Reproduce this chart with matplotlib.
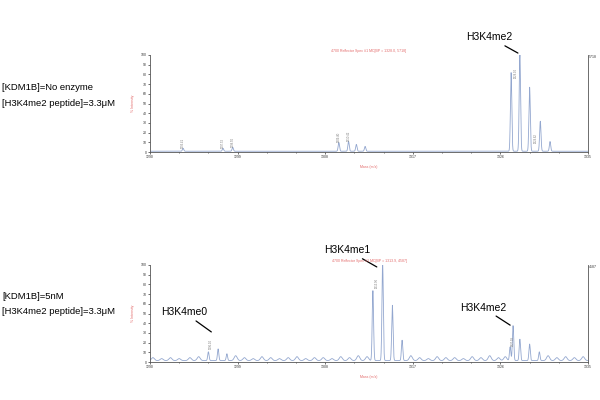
import numpy as np
import matplotlib
matplotlib.use('Agg')
import matplotlib.pyplot as plt

plt.rcParams['font.family'] = ['Liberation Sans', 'DejaVu Sans']

# eje de masas (m/z)
x_ticks = [1290, 1299, 1308, 1317, 1326, 1335]
y_ticks = [0, 10, 20, 30, 40, 50, 60, 70, 80, 90, 100]

# espectro 1: sin enzima (picos, % intensidad)
picos1_mz = [1293.4, 1297.5, 1298.5, 1309.4, 1310.4, 1311.2, 1312.1,
             1327.1, 1328.0, 1329.0, 1330.1, 1331.1]
picos1_int = [3, 3, 4, 9, 10, 7, 5,
              81, 100, 66, 31, 10]
etiq1_mz = [1293.4, 1297.5, 1298.5, 1309.4, 1310.4, 1327.6, 1329.6]
etiq1_txt = ['1293.41', '1297.52', '1298.50', '1309.40', '1310.42', '1328.00', '1329.62']
etiq1_y = [3, 3, 4, 9, 10, 75, 8]

# espectro 2: KDM1B 5nM
picos2_mz = [1296.0, 1297.0, 1297.9, 1312.9, 1313.9, 1314.9, 1315.9,
             1327.0, 1327.3, 1328.0, 1329.0, 1330.0]
picos2_int = [9, 12, 7, 72, 100, 57, 21,
              14, 36, 22, 17, 9]
etiq2_mz = [1296.2, 1313.3, 1327.3]
etiq2_txt = ['1296.10', '1313.90', '1327.99']
etiq2_y = [12, 75, 15]
# ruido de fondo del espectro 2
ruido_mz = [1290.3, 1291.2, 1292.1, 1293.0, 1294.1, 1295.0, 1298.8, 1299.7,
            1300.6, 1301.5, 1302.4, 1303.3, 1304.2, 1305.1, 1306.0, 1306.9,
            1307.8, 1308.7, 1309.6, 1310.5, 1311.4, 1312.3, 1316.8, 1317.7,
            1318.6, 1319.5, 1320.4, 1321.3, 1322.2, 1323.1, 1324.0, 1324.9,
            1325.8, 1326.5, 1330.9, 1331.8, 1332.7, 1333.6, 1334.5]
ruido_int = [3, 2, 3, 2, 3, 4, 5, 3, 2, 4, 3, 2, 3, 4, 2, 3, 3, 2, 4, 3,
             5, 4, 5, 3, 2, 4, 3, 3, 2, 4, 3, 5, 3, 4, 5, 3, 4, 3, 4]

color_linea = '#93a7cf'
rojo = '#e36a6a'


def perfil(mz, alturas, anchos, base):
    x = np.linspace(1290, 1335, 4000)
    y = np.full_like(x, base)
    for m, h, w in zip(mz, alturas, anchos):
        y += h * np.exp(-0.5 * ((x - m) / w) ** 2)
    return x, y


fig = plt.figure(figsize=(6, 4), dpi=100)

ax1 = fig.add_axes([0.25, 0.62, 0.73, 0.2425])
ax2 = fig.add_axes([0.25, 0.095, 0.73, 0.2425])

x1, y1 = perfil(picos1_mz, picos1_int, [0.07] * len(picos1_mz), 0.8)
x2, y2 = perfil(picos2_mz + ruido_mz, picos2_int + ruido_int,
                [0.07] * len(picos2_mz) + [0.15] * len(ruido_mz), 1.5)

for ax, x, y, tope in [(ax1, x1, y1, '5718'), (ax2, x2, y2, '4587')]:
    ax.plot(x, y, color=color_linea, lw=0.6)
    ax.set_xlim(1290, 1335)
    ax.set_ylim(0, 100)
    ax.set_xticks(x_ticks)
    ax.set_xticklabels([str(t) for t in x_ticks])
    ax.set_xticks(np.arange(1290, 1336, 3), minor=True)
    ax.set_yticks(y_ticks)
    ax.tick_params(labelsize=2.5, length=1.5, width=0.5, colors='#333333', pad=1)
    ax.tick_params(which='minor', length=1, width=0.4)
    for s in ['left', 'bottom', 'right']:
        ax.spines[s].set_color('#555555')
        ax.spines[s].set_linewidth(0.6)
    ax.spines['top'].set_visible(False)
    ax.set_ylabel('% Intensity', fontsize=2.5, color=rojo, labelpad=4)
    ax.set_xlabel('Mass (m/z)', fontsize=2.5, color=rojo, labelpad=4)
    ax.text(1.003, 0.97, tope, transform=ax.transAxes, fontsize=2.5, color='#333333')

ax1.set_title('4700 Reflector Spec #1 MC[BP = 1328.0, 5718]', fontsize=2.5, color=rojo, pad=2)
ax2.set_title('4700 Reflector Spec #1 MC[BP = 1313.9, 4587]', fontsize=2.5, color=rojo, pad=2)

for m, t, yy in zip(etiq1_mz, etiq1_txt, etiq1_y):
    ax1.text(m, yy + 1, t, rotation=90, fontsize=2, color='#777777', ha='center', va='bottom')
for m, t, yy in zip(etiq2_mz, etiq2_txt, etiq2_y):
    ax2.text(m, yy + 1, t, rotation=90, fontsize=2, color='#777777', ha='center', va='bottom')

flecha = dict(arrowstyle='-', color='black', lw=0.9, shrinkA=1, shrinkB=0)
ax1.annotate('H3K4me2', xy=(1327.8, 102), xytext=(1324.9, 113),
             fontsize=7.5, ha='center', va='bottom', arrowprops=flecha, annotation_clip=False)
ax2.annotate('H3K4me1', xy=(1313.3, 98), xytext=(1310.3, 110),
             fontsize=7.5, ha='center', va='bottom', arrowprops=flecha, annotation_clip=False)
ax2.annotate('H3K4me0', xy=(1296.3, 31), xytext=(1293.5, 46),
             fontsize=7.5, ha='center', va='bottom', arrowprops=flecha)
ax2.annotate('H3K4me2', xy=(1327.0, 38), xytext=(1324.2, 51),
             fontsize=7.5, ha='center', va='bottom', arrowprops=flecha)

fig.text(0.004, 0.78, '[KDM1B]=No enzyme', fontsize=6.8, va='center')
fig.text(0.004, 0.742, '[H3K4me2 peptide]=3.3μM', fontsize=6.8, va='center')
fig.text(0.004, 0.258, '[KDM1B]=5nM', fontsize=6.8, va='center')
fig.text(0.004, 0.222, '[H3K4me2 peptide]=3.3μM', fontsize=6.8, va='center')

plt.savefig('out.png', dpi=100)
